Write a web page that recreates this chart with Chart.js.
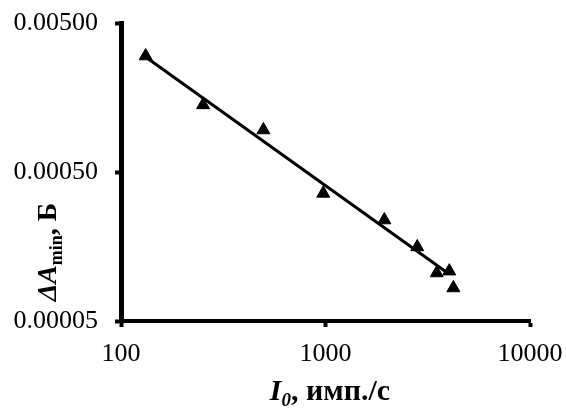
<!DOCTYPE html>
<html>
<head>
<meta charset="utf-8">
<script src="https://cdn.jsdelivr.net/npm/chart.js@4"></script>
<style>
  body { margin: 0; background: #fff; }
</style>
</head>
<body>
<canvas id="chart" width="566" height="410"></canvas>
<script>
// measured points
const intensity = [132, 252, 497, 975, 1940, 2810, 3500, 4030, 4220];
const deltaA = [0.00300, 0.00141, 0.000957, 0.000359, 0.000238, 0.000157, 0.000105, 0.000108, 0.0000833];

// trend line ends
const trendX = [132, 3850];
const trendY = [0.00296, 0.000108];

const xTicks = [100, 1000, 10000];
const yTicks = [0.00005, 0.0005, 0.005];

const serif = '"Liberation Serif", "Times New Roman", serif';

// axis titles with subscripts
function drawParts(ctx, parts) {
    let total = 0;
    parts.forEach(p => { ctx.font = p.f; total += ctx.measureText(p.t).width; });
    let x = -total / 2;
    parts.forEach(p => {
        ctx.font = p.f;
        ctx.fillText(p.t, x, p.dy);
        x += ctx.measureText(p.t).width;
    });
}

const titlePlugin = {
    id: 'titles',
    afterDraw(chart) {
        const ctx = chart.ctx;
        ctx.save();
        ctx.fillStyle = '#000';
        ctx.textBaseline = 'alphabetic';
        ctx.textAlign = 'left';

        ctx.save();
        ctx.translate(330, 400);
        drawParts(ctx, [
            { t: 'I', f: 'italic bold 30px ' + serif, dy: 0 },
            { t: '0', f: 'italic bold 19px ' + serif, dy: 6 },
            { t: ', имп./с', f: 'bold 30px ' + serif, dy: 0 }
        ]);
        ctx.restore();

        ctx.save();
        ctx.translate(56, 252);
        ctx.rotate(-Math.PI / 2);
        drawParts(ctx, [
            { t: 'ΔA', f: 'italic bold 28px ' + serif, dy: 0 },
            { t: 'min', f: 'bold 18px ' + serif, dy: 6 },
            { t: ', Б', f: 'bold 28px ' + serif, dy: 0 }
        ]);
        ctx.restore();
        ctx.restore();
    }
};

const config = {
    type: 'scatter',
    data: {
        datasets: [{
            label: 'ΔAmin',
            data: intensity.map((v, i) => ({ x: v, y: deltaA[i] })),
            pointStyle: 'triangle',
            pointRadius: 7.5,
            backgroundColor: '#000',
            borderColor: '#000',
            borderWidth: 1,
            showLine: false
        }, {
            label: 'trend',
            data: trendX.map((v, i) => ({ x: v, y: trendY[i] })),
            showLine: true,
            pointRadius: 0,
            borderColor: '#000',
            borderWidth: 3
        }]
    },
    options: {
        responsive: false,
        animation: false,
        layout: {
            padding: { top: 23, right: 36, left: 0, bottom: 0 }
        },
        plugins: {
            legend: { display: false },
            tooltip: { enabled: false }
        },
        scales: {
            x: {
                type: 'logarithmic',
                min: 100,
                max: 10000,
                afterBuildTicks: s => { s.ticks = xTicks.map(v => ({ value: v })); },
                afterFit: s => { s.height = 89; s.paddingLeft = 0; s.paddingRight = 0; },
                ticks: {
                    autoSkip: false,
                    maxRotation: 0,
                    padding: 12,
                    color: '#000',
                    font: { family: serif, size: 26 },
                    callback: v => String(v)
                },
                grid: { drawOnChartArea: false, tickLength: 6, tickWidth: 4, tickColor: '#000' },
                border: { color: '#000', width: 4 }
            },
            y: {
                type: 'logarithmic',
                min: 0.00005,
                max: 0.005,
                afterBuildTicks: s => { s.ticks = yTicks.map(v => ({ value: v })); },
                afterFit: s => { s.width = 121; s.paddingTop = 0; s.paddingBottom = 0; },
                ticks: {
                    autoSkip: false,
                    padding: 17,
                    color: '#000',
                    font: { family: serif, size: 26 },
                    callback: v => v.toFixed(5)
                },
                grid: { drawOnChartArea: false, tickLength: 6, tickWidth: 4, tickColor: '#000' },
                border: { color: '#000', width: 5 }
            }
        }
    },
    plugins: [titlePlugin]
};

const myChart = new Chart(document.getElementById('chart'), config);
</script>
</body>
</html>
